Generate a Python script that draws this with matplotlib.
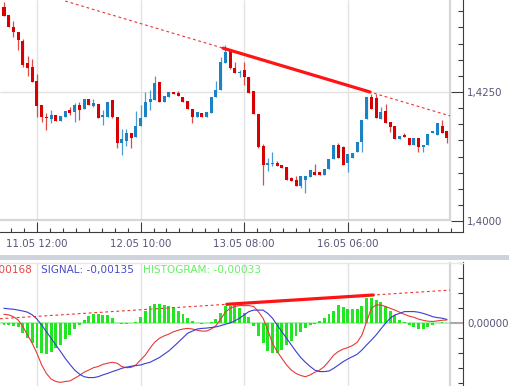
import numpy as np
import matplotlib
matplotlib.use('Agg')
import matplotlib.pyplot as plt
from matplotlib.ticker import FixedLocator, MultipleLocator, FuncFormatter

# hourly candles, index 0..94
opens = [1.4414, 1.4399, 1.4376, 1.4366, 1.4348, 1.4306, 1.4298, 1.4271, 1.4224, 1.4201,
         1.4197, 1.4205, 1.4193, 1.4201, 1.4215, 1.4211, 1.4224, 1.4217, 1.4236, 1.4222,
         1.4226, 1.4201, 1.4201, 1.4234, 1.4201, 1.4151, 1.4156, 1.4170, 1.4162, 1.4184,
         1.4201, 1.4230, 1.4234, 1.4269, 1.4230, 1.4240, 1.4250, 1.4248, 1.4240, 1.4232,
         1.4218, 1.4201, 1.4209, 1.4201, 1.4209, 1.4240, 1.4253, 1.4306, 1.4331, 1.4296,
         1.4286, 1.4292, 1.4279, 1.4251, 1.4207, 1.4145, 1.4108, 1.4110, 1.4112, 1.4108,
         1.4104, 1.4083, 1.4079, 1.4067, 1.4079, 1.4085, 1.4094, 1.4094, 1.4090, 1.4100,
         1.4121, 1.4147, 1.4143, 1.4112, 1.4123, 1.4133, 1.4153, 1.4197, 1.4240, 1.4238,
         1.4197, 1.4213, 1.4191, 1.4184, 1.4158, 1.4166, 1.4160, 1.4147, 1.4160, 1.4143,
         1.4147, 1.4170, 1.4166, 1.4184, 1.4174]
highs = [1.4424, 1.4399, 1.4387, 1.4366, 1.4352, 1.4319, 1.4314, 1.4284, 1.4224, 1.4209,
         1.4215, 1.4205, 1.4203, 1.4213, 1.4220, 1.4228, 1.4230, 1.4236, 1.4236, 1.4236,
         1.4226, 1.4215, 1.4230, 1.4234, 1.4201, 1.4178, 1.4178, 1.4170, 1.4213, 1.4224,
         1.4250, 1.4253, 1.4281, 1.4269, 1.4242, 1.4250, 1.4250, 1.4251, 1.4240, 1.4232,
         1.4218, 1.4211, 1.4209, 1.4211, 1.4240, 1.4271, 1.4317, 1.4341, 1.4331, 1.4308,
         1.4292, 1.4308, 1.4279, 1.4251, 1.4207, 1.4149, 1.4123, 1.4133, 1.4116, 1.4108,
         1.4104, 1.4085, 1.4087, 1.4088, 1.4088, 1.4098, 1.4110, 1.4094, 1.4100, 1.4121,
         1.4147, 1.4151, 1.4145, 1.4129, 1.4131, 1.4153, 1.4195, 1.4240, 1.4246, 1.4246,
         1.4220, 1.4226, 1.4191, 1.4184, 1.4164, 1.4170, 1.4160, 1.4160, 1.4160, 1.4147,
         1.4168, 1.4174, 1.4190, 1.4195, 1.4174]
lows = [1.4397, 1.4376, 1.4356, 1.4331, 1.4298, 1.4281, 1.4269, 1.4201, 1.4191, 1.4176,
        1.4189, 1.4193, 1.4193, 1.4201, 1.4205, 1.4191, 1.4195, 1.4217, 1.4224, 1.4220,
        1.4199, 1.4187, 1.4201, 1.4199, 1.4141, 1.4127, 1.4145, 1.4141, 1.4162, 1.4184,
        1.4201, 1.4215, 1.4234, 1.4230, 1.4230, 1.4240, 1.4246, 1.4242, 1.4230, 1.4218,
        1.4189, 1.4201, 1.4201, 1.4201, 1.4209, 1.4240, 1.4253, 1.4306, 1.4294, 1.4286,
        1.4279, 1.4263, 1.4248, 1.4207, 1.4141, 1.4069, 1.4096, 1.4106, 1.4106, 1.4102,
        1.4079, 1.4077, 1.4067, 1.4063, 1.4054, 1.4085, 1.4090, 1.4090, 1.4090, 1.4100,
        1.4121, 1.4123, 1.4108, 1.4094, 1.4123, 1.4133, 1.4133, 1.4197, 1.4218, 1.4199,
        1.4197, 1.4189, 1.4172, 1.4158, 1.4158, 1.4162, 1.4147, 1.4147, 1.4133, 1.4133,
        1.4147, 1.4170, 1.4166, 1.4170, 1.4151]
closes = [1.4397, 1.4376, 1.4366, 1.4350, 1.4302, 1.4296, 1.4269, 1.4222, 1.4201, 1.4199,
          1.4205, 1.4193, 1.4203, 1.4213, 1.4209, 1.4224, 1.4215, 1.4236, 1.4224, 1.4228,
          1.4199, 1.4205, 1.4230, 1.4201, 1.4151, 1.4158, 1.4170, 1.4160, 1.4185, 1.4199,
          1.4230, 1.4236, 1.4267, 1.4230, 1.4242, 1.4250, 1.4246, 1.4242, 1.4230, 1.4218,
          1.4201, 1.4211, 1.4201, 1.4211, 1.4240, 1.4253, 1.4308, 1.4327, 1.4296, 1.4286,
          1.4288, 1.4279, 1.4248, 1.4207, 1.4143, 1.4108, 1.4112, 1.4112, 1.4106, 1.4102,
          1.4079, 1.4077, 1.4067, 1.4088, 1.4088, 1.4098, 1.4090, 1.4090, 1.4100, 1.4121,
          1.4147, 1.4123, 1.4108, 1.4129, 1.4131, 1.4153, 1.4195, 1.4240, 1.4218, 1.4199,
          1.4211, 1.4189, 1.4182, 1.4158, 1.4164, 1.4162, 1.4147, 1.4160, 1.4143, 1.4147,
          1.4168, 1.4174, 1.4189, 1.4170, 1.4160]

time_idx = [7, 29, 51, 73]
time_labels = ['11.05 12:00', '12.05 10:00', '13.05 08:00', '16.05 06:00']
price_labels = [1.4000, 1.4250]

# MACD (x 1e-4)
macd = np.array([3.0, 2.8, 2.2, 1.1, -1.1, -3.9, -6.7, -10.0, -13.9, -16.7,
                 -18.6, -19.4, -19.7, -19.4, -19.2, -18.3, -17.4, -16.3, -15.6, -14.8,
                 -14.4, -13.7, -13.3, -13.0, -13.3, -14.4, -14.8, -14.7, -13.9, -12.2,
                 -10.6, -8.3, -6.3, -5.0, -4.2, -3.6, -2.8, -2.3, -1.9, -1.7,
                 -1.9, -2.3, -2.6, -2.6, -1.9, -0.8, 1.4, 3.7, 5.0, 5.6,
                 5.9, 5.9, 5.9, 5.6, 3.9, 1.7, -2.2, -6.7, -9.4, -11.7,
                 -13.9, -15.6, -16.7, -17.4, -17.8, -17.2, -16.3, -15.6, -14.4, -12.6,
                 -10.6, -9.4, -8.6, -8.1, -7.4, -6.3, -3.9, 0.6, 5.0, 6.1,
                 6.1, 5.6, 5.0, 4.4, 3.7, 3.0, 2.4, 2.0, 1.4, 1.0,
                 0.7, 0.6, 0.8, 1.0, 1.1]) * 1e-4
signal = np.array([5.0, 4.8, 4.7, 4.4, 4.1, 3.7, 2.8, 1.4, -0.6, -2.8,
                   -5.0, -7.2, -9.4, -11.7, -13.7, -15.6, -16.9, -17.8, -18.1, -18.1,
                   -17.8, -17.2, -16.7, -16.1, -15.6, -15.0, -14.6, -14.3, -14.1, -13.9,
                   -13.4, -13.0, -12.2, -11.4, -10.3, -9.2, -7.8, -6.3, -4.8, -3.3,
                   -2.6, -1.9, -1.7, -1.6, -1.4, -1.2, -0.8, -0.3, 0.1, 0.8,
                   1.7, 2.8, 3.9, 4.4, 4.4, 4.4, 3.3, 1.7, -0.6, -2.8,
                   -5.0, -7.2, -9.4, -11.4, -13.0, -14.4, -15.6, -16.1, -16.1, -15.9,
                   -15.0, -13.9, -12.8, -11.9, -11.1, -10.3, -8.9, -7.2, -5.6, -3.9,
                   -1.9, 0.0, 1.7, 2.8, 3.3, 3.9, 3.9, 3.9, 3.7, 3.3,
                   2.8, 2.2, 1.9, 1.7, 1.3]) * 1e-4
hist = np.array([-0.7, -0.7, -1.0, -1.3, -3.3, -5.0, -6.7, -8.3, -10.0, -10.3,
                 -9.7, -8.3, -7.3, -5.3, -4.0, -2.0, -0.7, 1.0, 2.3, 3.0,
                 3.0, 2.7, 2.7, 1.7, 0.0, -0.3, -0.3, 0.0, 0.3, 2.0,
                 4.0, 5.7, 6.3, 6.3, 6.0, 5.7, 5.3, 4.0, 3.0, 1.7,
                 0.7, 0.0, -0.3, 0.0, 0.3, 1.3, 3.3, 5.7, 5.7, 6.0,
                 5.0, 3.3, 2.0, -1.0, -4.3, -6.7, -9.3, -10.0, -10.0, -9.0,
                 -7.3, -6.0, -4.3, -3.0, -1.7, -0.7, -0.3, 0.7, 1.7, 3.0,
                 4.0, 6.0, 5.3, 4.7, 4.7, 4.7, 5.7, 8.3, 8.3, 7.7,
                 7.0, 5.7, 4.0, 2.7, 1.0, 0.3, -0.7, -1.3, -2.0, -2.0,
                 -1.3, -0.7, 0.0, 0.3, 0.0]) * 1e-4

# divergence lines: two touch points each
price_trend_x = [46.5, 77.7]
price_trend_y = [1.4335, 1.4250]
macd_trend_x = [47.3, 78.4]
macd_trend_y = [6.33e-4, 9.43e-4]

RED = '#d80000'
BLUE = '#1c82c6'
RED_W = '#e04848'
BLUE_W = '#4a9ad4'
TXT = '#56567a'
AXC = '#3c3c3c'
GRID = '#e2e2e2'
FRAME = '#d6d6d6'

W, H = 509, 386
fig = plt.figure(figsize=(W/100, H/100), dpi=100, facecolor='white')
plt.rcParams['font.family'] = 'DejaVu Sans'

# candle i sits at 4 + 4.71*i px
X0 = -4/4.71
X1 = (463-4)/4.71
XR = (450-4)/4.71

# ---------- price panel ----------
ax = fig.add_axes([0, (H-232)/H, 463/W, 232/H])
ytop = 1.4250 + 92/5160.
ybot = 1.4250 - 140/5160.
yfr = 1.4250 - 128/5160.
ax.set_xlim(X0, X1)
ax.set_ylim(ybot, ytop)
for s in ['left', 'top']:
    ax.spines[s].set_visible(False)
for s in ['right', 'bottom']:
    ax.spines[s].set_color(AXC)
    ax.spines[s].set_linewidth(0.8)

ax.hlines(1.4250, X0, XR, color=GRID, lw=1, zorder=0)
ax.vlines(time_idx, yfr, ytop, color=GRID, lw=1, zorder=0)
ax.plot([XR, XR], [yfr, ytop], color=FRAME, lw=1.6, zorder=1)
ax.plot([X0, XR], [yfr, yfr], color=FRAME, lw=1.6, zorder=1)

o = np.array(opens); c = np.array(closes); h = np.array(highs); l = np.array(lows)
x = np.arange(len(o))
up = c >= o
col = np.where(up, BLUE, RED)
wcol = np.where(up, BLUE_W, RED_W)
ax.vlines(x, l, h, colors=wcol, lw=0.9, zorder=2)
body = np.maximum(np.abs(c-o), 0.00015)
ax.bar(x, body, bottom=np.minimum(o, c), width=0.64, color=col, linewidth=0, zorder=3)

# resistance line on highs
k = (price_trend_y[1]-price_trend_y[0])/(price_trend_x[1]-price_trend_x[0])
xs = np.array([13.0, XR])
ax.plot(xs, price_trend_y[0] + k*(xs-price_trend_x[0]), color='#ee3333', lw=0.8,
        dashes=(2.5, 2.5), zorder=4)
ax.plot(price_trend_x, price_trend_y, color='#ff1414', lw=2.3, solid_capstyle='round', zorder=5)

ax.yaxis.tick_right()
ax.yaxis.set_major_locator(FixedLocator(price_labels))
ax.yaxis.set_minor_locator(FixedLocator(np.arange(1.4000, ytop, 0.003125)))
ax.yaxis.set_major_formatter(FuncFormatter(lambda v, p: ('%.4f' % v).replace('.', ',')))
ax.tick_params(axis='y', which='major', direction='in', length=8.6, width=0.8,
               color=AXC, labelcolor=TXT, labelsize=7.4, pad=3)
ax.tick_params(axis='y', which='minor', direction='in', length=3.6, width=0.8, color=AXC)

ax.xaxis.set_major_locator(FixedLocator(time_idx))
ax.xaxis.set_major_formatter(FuncFormatter(lambda v, p: time_labels[time_idx.index(int(round(v)))]))
ax.xaxis.set_minor_locator(FixedLocator(np.arange(1.5, X1, 2.75)))
ax.tick_params(axis='x', which='major', direction='in', length=7.2, width=0.8,
               color=AXC, labelcolor=TXT, labelsize=7.4, pad=5)
ax.tick_params(axis='x', which='minor', direction='in', length=2.9, width=0.8, color=AXC)

# ---------- separator ----------
fig.patches.append(plt.Rectangle((0, (H-260)/H), 1, 5/H, transform=fig.transFigure,
                                 color='#cfd3db', lw=0))
fig.lines.append(plt.Line2D([0, 463/W], [(H-262.5)/H]*2, transform=fig.transFigure,
                            color='#e6e8ec', lw=1))

# ---------- MACD panel ----------
ax2 = fig.add_axes([0, 0, 463/W, 124/H])
ax2.set_xlim(X0, X1)
ax2.set_ylim(-2.09e-3, 2.043e-3)
for s in ['left', 'top', 'bottom']:
    ax2.spines[s].set_visible(False)
ax2.spines['right'].set_color(AXC)
ax2.spines['right'].set_linewidth(0.8)

ax2.vlines(time_idx, -2.09e-3, 2.043e-3, color=GRID, lw=1, zorder=0)
ax2.plot([XR, XR], [-2.09e-3, 2.043e-3], color=FRAME, lw=1.6, zorder=1)
ax2.hlines(0, X0, XR, color='#9ef09e', lw=1.2, zorder=1)
ax2.bar(x, hist, width=0.62, color='#22e622', linewidth=0, zorder=2)
ax2.plot(x, macd, color='#e53a3a', lw=0.8, zorder=3)
ax2.plot(x, signal, color='#3c3cd2', lw=0.8, zorder=3)

k2 = (macd_trend_y[1]-macd_trend_y[0])/(macd_trend_x[1]-macd_trend_x[0])
xs2 = np.array([X0, XR])
ax2.plot(xs2, macd_trend_y[0] + k2*(xs2-macd_trend_x[0]), color='#ee3333', lw=0.8,
         dashes=(2.5, 2.5), zorder=4)
ax2.plot(macd_trend_x, macd_trend_y, color='#ff1414', lw=2.3, solid_capstyle='round', zorder=5)

ax2.set_xticks([])
ax2.yaxis.tick_right()
ax2.yaxis.set_major_locator(FixedLocator([0.0]))
ax2.yaxis.set_major_formatter(FuncFormatter(lambda v, p: '0,00000'))
ax2.yaxis.set_minor_locator(MultipleLocator(0.0005))
ax2.tick_params(axis='y', which='major', direction='in', length=9.4, width=1.5,
                color='#a8a8a8', labelcolor=TXT, labelsize=7.4, pad=3)
ax2.tick_params(axis='y', which='minor', direction='in', length=3.6, width=0.8, color=AXC)

# legend line, first entry runs off the left edge as in the source
ty = (H-270)/H
fig.text(32/W, ty, 'MACD: -0,00168', color='#e84848', fontsize=7.6, ha='right', va='center')
fig.text(41/W, ty, 'SIGNAL: -0,00135', color='#4a4ad0', fontsize=7.6, ha='left', va='center')
fig.text(143/W, ty, 'HISTOGRAM: -0,00033', color='#66f066', fontsize=7.6, ha='left', va='center')

plt.savefig('out.png', dpi=100, facecolor='white')
